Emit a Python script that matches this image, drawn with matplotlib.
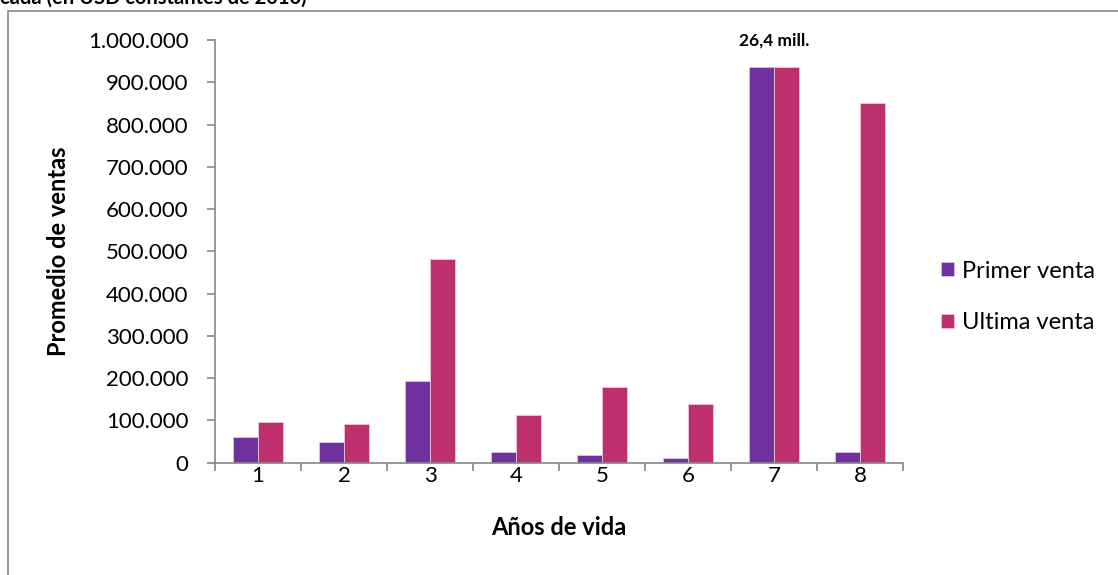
import numpy as np
import matplotlib
matplotlib.use('Agg')
import matplotlib.pyplot as plt
from matplotlib.patches import Rectangle
from matplotlib.ticker import FuncFormatter, FixedLocator, NullFormatter

plt.rcParams['font.family'] = ['Lato', 'DejaVu Sans']

# promedio de ventas por años de vida (USD constantes de 2010)
anios = ['1', '2', '3', '4', '5', '6', '7', '8']
primer_venta = [61500, 49500, 193000, 25000, 18000, 12000, 26400000, 26000]
ultima_venta = [96000, 91500, 482000, 112000, 180000, 139000, 26400000, 851000]
tope = 937000  # las barras del año 7 se cortan aquí, el valor va en la etiqueta
etiqueta_7 = '26,4 mill.'

c_primer = '#7030A0'
c_ultima = '#BE306D'
gris = '#868686'

fig = plt.figure(figsize=(11.18, 5.75), dpi=100)
ax = fig.add_axes([0.1923, 0.1952, 0.6154, 0.7352])

x = np.arange(len(anios))
w = 0.285
ax.bar(x - w / 2, np.minimum(primer_venta, tope), w, color=c_primer,
       edgecolor='#d9c7e6', linewidth=0.6, label='Primer venta')
ax.bar(x + w / 2, np.minimum(ultima_venta, tope), w, color=c_ultima,
       edgecolor='#efc3d5', linewidth=0.6, label='Ultima venta')

ax.text(6, 1000000, etiqueta_7, ha='center', va='center',
        fontsize=12.5, fontweight='bold')

ax.set_xlim(-0.5, len(anios) - 0.5)
ax.set_ylim(0, 1000000)
ax.set_yticks(np.arange(0, 1000001, 100000))
ax.yaxis.set_major_formatter(FuncFormatter(lambda v, p: f'{int(v):,}'.replace(',', '.')))

# etiquetas en el centro, marcas entre categorías
ax.xaxis.set_major_locator(FixedLocator(np.arange(-0.5, len(anios), 1)))
ax.xaxis.set_major_formatter(NullFormatter())
ax.xaxis.set_minor_locator(FixedLocator(x))
ax.set_xticklabels(anios, minor=True)
ax.tick_params(axis='x', which='minor', length=0, labelsize=16, pad=2)
ax.tick_params(axis='x', which='major', length=6, color=gris, width=1.2)
ax.tick_params(axis='y', length=6, color=gris, width=1.2, labelsize=16, pad=13)

for s in ['top', 'right']:
    ax.spines[s].set_visible(False)
for s in ['left', 'bottom']:
    ax.spines[s].set_color(gris)
    ax.spines[s].set_linewidth(1.2)

ax.set_xlabel('Años de vida', fontsize=17, fontweight='bold', labelpad=22)
ax.set_ylabel('Promedio de ventas', fontsize=17, fontweight='bold', labelpad=13)

ax.legend(loc='center left', bbox_to_anchor=(1.025, 0.392), frameon=False,
          fontsize=17, handlelength=0.55, handleheight=0.55, handletextpad=0.3,
          labelspacing=1.3)

# marco del gráfico y título cortado arriba
fig.patches.append(Rectangle((8 / 1118, -0.05), 1.2, 1 - 11 / 575 + 0.05,
                             transform=fig.transFigure, fill=False,
                             edgecolor=gris, linewidth=1.2))
fig.text(0.0, 1 - 4 / 575, 'cada (en USD constantes de 2010)', ha='left',
         va='baseline', fontsize=14.5, fontweight='bold')

fig.savefig('out.png', dpi=100)
